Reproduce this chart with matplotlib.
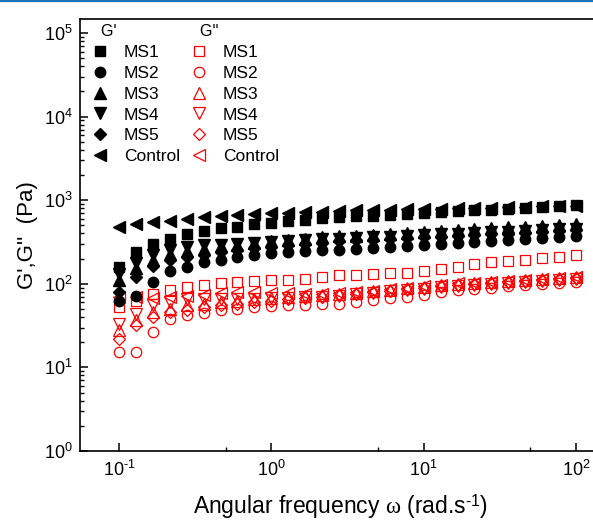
import math
import matplotlib
matplotlib.use("Agg")
import matplotlib.pyplot as plt
from matplotlib.lines import Line2D
from matplotlib.ticker import LogLocator, FuncFormatter, NullFormatter

plt.rcParams["font.family"] = ["Liberation Sans", "DejaVu Sans"]
plt.rcParams["mathtext.fontset"] = "custom"
plt.rcParams["mathtext.rm"] = "Liberation Serif"
plt.rcParams["mathtext.it"] = "Liberation Serif:italic"

# Angular frequency sweep (rad/s)
omega = [0.1, 0.129, 0.167, 0.215, 0.278, 0.359, 0.464, 0.599, 0.774,
         1.0, 1.29, 1.67, 2.15, 2.78, 3.59, 4.64, 5.99, 7.74,
         10.0, 12.9, 16.7, 21.5, 27.8, 35.9, 46.4, 59.9, 77.4, 100.0]

# Storage modulus G' (Pa)
gp_ms1 = [158, 239, 303, 348, 393, 427, 459, 484, 512, 536, 561, 587, 608, 625,
          640, 655, 671, 687, 703, 720, 737, 755, 773, 791, 810, 829, 849, 869]
gp_ms2 = [62, 72, 105, 141, 158, 180, 195, 209, 221, 232, 240, 245, 251, 257,
          264, 271, 278, 286, 293, 301, 309, 317, 325, 334, 343, 352, 361, 371]
gp_ms3 = [110, 155, 195, 229, 245, 263, 282, 295, 309, 324, 335, 347, 359, 368,
          378, 387, 397, 406, 417, 428, 439, 450, 460, 472, 484, 497, 509, 521]
gp_ms4 = [132, 178, 224, 257, 275, 288, 295, 302, 309, 316, 324, 331, 339, 347,
          353, 361, 367, 375, 382, 390, 397, 406, 413, 422, 430, 439, 447, 456]
gp_ms5 = [79, 120, 162, 191, 209, 224, 240, 251, 269, 279, 288, 299, 309, 324,
          330, 337, 344, 352, 359, 366, 374, 382, 390, 398, 406, 416, 425, 434]
gp_ctrl = [475, 521, 545, 571, 598, 625, 643, 667, 686, 698, 706, 718, 731, 745,
           753, 761, 769, 777, 785, 793, 801, 809, 817, 825, 834, 842, 851, 860]

# Loss modulus G'' (Pa)
gpp_ms1 = [53, 63, 76, 85, 91, 98, 102, 106, 108, 110, 112, 115, 120, 126,
           128, 131, 133, 136, 141, 150, 160, 172, 180, 185, 193, 202, 212, 222]
gpp_ms2 = [15.3, 15.3, 26.5, 38, 42, 45, 48, 50, 53, 54, 55, 56, 57, 58,
           61, 64, 67, 70, 74, 80, 84, 87, 90, 93, 96, 99, 102, 105]
gpp_ms3 = [28, 37, 46, 50, 55, 58, 61, 63, 66, 68, 70, 72, 73, 75,
           78, 81, 85, 88, 92, 96, 100, 102, 105, 108, 111, 114, 117, 120]
gpp_ms4 = [33, 43, 55, 61, 65, 66, 66, 66, 66, 67, 68, 69, 70, 72,
           75, 78, 81, 84, 87, 91, 95, 97, 100, 103, 106, 108, 111, 113]
gpp_ms5 = [22, 32, 40, 46, 49, 53, 56, 58, 61, 63, 66, 68, 70, 73,
           76, 79, 82, 86, 89, 93, 97, 99, 102, 105, 108, 111, 114, 118]
gpp_ctrl = [70, 69, 68, 69, 72, 74, 77, 79, 79, 78, 77, 76, 76, 77,
            80, 83, 86, 90, 93, 97, 101, 103, 106, 109, 112, 114, 118, 120]

labels = ["MS1", "MS2", "MS3", "MS4", "MS5", "Control"]
markers = ["s", "o", "^", "v", "D", "<"]
sizes = [7, 7.5, 8, 8, 6, 8]
gp_series = [gp_ms1, gp_ms2, gp_ms3, gp_ms4, gp_ms5, gp_ctrl]
gpp_series = [gpp_ms1, gpp_ms2, gpp_ms3, gpp_ms4, gpp_ms5, gpp_ctrl]

fig = plt.figure(figsize=(5.93, 5.21), dpi=100)
W, H = 593, 521
ax = fig.add_axes([80 / W, (H - 451) / H, (602 - 80) / W, (451 - 19) / H])

red_handles = []
for vals, m, s, lab in zip(gpp_series, markers, sizes, labels):
    h, = ax.plot(omega, vals, linestyle="none", marker=m, ms=s,
                 mfc="none", mec="#ff0000", mew=0.9, label=lab)
    red_handles.append(h)

black_handles = []
for vals, m, s, lab in zip(gp_series, markers, sizes, labels):
    h, = ax.plot(omega, vals, linestyle="none", marker=m, ms=s,
                 color="black", mec="black", label=lab)
    black_handles.append(h)

ax.set_xscale("log")
ax.set_yscale("log")
ax.set_xlim(10 ** -1.256, 10 ** 2.17)
ax.set_ylim(1, 10 ** 5.167)

ax.spines["right"].set_visible(False)
for side in ["left", "bottom", "top"]:
    ax.spines[side].set_linewidth(1.2)


def pow10_label(v, pos):
    e = int(round(math.log10(v)))
    return r"$\mathdefault{10^{%s}}$" % str(e).replace("-", "\u2010")


ax.xaxis.set_major_locator(LogLocator(base=10, numticks=10))
ax.xaxis.set_minor_locator(LogLocator(base=10, subs=[5.0], numticks=10))
ax.yaxis.set_major_locator(LogLocator(base=10, numticks=10))
ax.yaxis.set_minor_locator(LogLocator(base=10, subs=[2, 3, 4, 5, 6, 7, 8, 9], numticks=10))
ax.xaxis.set_major_formatter(FuncFormatter(pow10_label))
ax.yaxis.set_major_formatter(FuncFormatter(pow10_label))
ax.xaxis.set_minor_formatter(NullFormatter())
ax.yaxis.set_minor_formatter(NullFormatter())

ax.tick_params(which="major", direction="in", length=6, width=1.1, labelsize=13,
               top=False, right=False)
ax.tick_params(which="minor", direction="in", length=3, width=1.0,
               top=False, right=False)
ax.tick_params(axis="x", which="major", pad=6.5)
ax.tick_params(axis="y", which="major", pad=5.5)

ax.set_xlabel("Angular frequency $\\mathrm{\\omega}$ (rad.s$^{\\mathdefault{\u20101}}$)",
              fontsize=16.5, labelpad=9)
ax.set_ylabel("G',G''  (Pa)", fontsize=16, labelpad=4)

common = dict(loc="upper left", frameon=False, fontsize=12.5, title_fontsize=11.5,
              handlelength=1.0, handletextpad=0.85, labelspacing=0.33,
              borderpad=0, borderaxespad=0, alignment="left")
leg1 = fig.legend(handles=black_handles, labels=labels, title="  G'",
                  bbox_to_anchor=(91.7 / W, 1 - 24 / H), **common)
leg2 = fig.legend(handles=red_handles, labels=labels, title="  G''",
                  bbox_to_anchor=(190.7 / W, 1 - 24 / H), **common)

fig.add_artist(Line2D([0, 1], [1 - 1 / H, 1 - 1 / H], transform=fig.transFigure,
                      color="#1c75bc", linewidth=1.6))

fig.savefig("out.png", dpi=100)
